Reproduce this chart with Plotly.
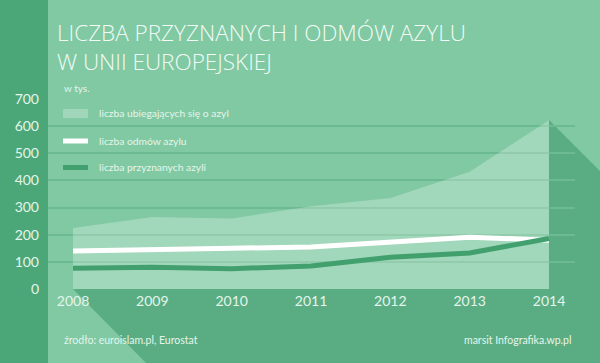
import plotly.graph_objects as go

years = [2008, 2009, 2010, 2011, 2012, 2013, 2014]
applicants = [225, 265, 260, 305, 335, 432, 622]
rejections = [140, 147, 150, 155, 174, 191, 180]
granted = [76, 80, 75, 85, 117, 133, 186]

y_ticks = [0, 100, 200, 300, 400, 500, 600, 700]
x_ticks = years

title_lines = ["LICZBA PRZYZNANYCH I ODMÓW AZYLU", "W UNII EUROPEJSKIEJ"]
unit_label = "w tys."
legend_labels = ["liczba ubiegających się o azyl", "liczba odmów azylu", "liczba przyznanych azyli"]
source_text = "źrodło: euroislam.pl, Eurostat"
credit_text = "marsit Infografika.wp.pl"

W, H = 600, 363
L, R, T, B = 48, 25, 99, 74
PW, PH = W - L - R, H - T - B

BG = "#80c9a3"
STRIP = "#4ba778"
DARK = "#5aad83"
GRID = "#6cba91"
AREA = "rgba(255,255,255,0.26)"
GREEN = "#41a06e"
TEXT = "#e4f5eb"
FONT = "Lato"
TITLE_FONT = "Open Sans"


def px(x):
    return (x - L) / PW


def py(y):
    return (H - B - y) / PH


fig = go.Figure()
fig.add_trace(go.Scatter(x=years, y=applicants, mode="lines", fill="tozeroy",
                         fillcolor=AREA, line=dict(width=0, color=AREA),
                         hoverinfo="skip", showlegend=False))
fig.add_trace(go.Scatter(x=years, y=rejections, mode="lines",
                         line=dict(width=5, color="#ffffff"), showlegend=False))
fig.add_trace(go.Scatter(x=years, y=granted, mode="lines",
                         line=dict(width=5, color=GREEN), showlegend=False))

shapes = []
shapes.append(dict(type="rect", xref="paper", yref="paper", x0=px(0), x1=px(48),
                   y0=py(H), y1=py(0), fillcolor=STRIP, line_width=0, layer="below"))
pts = [(73, 289), (549, 289), (549, 120), (600, 171), (600, 363), (146, 363)]
path = "M " + " L ".join(f"{px(a):.5f},{py(b):.5f}" for a, b in pts) + " Z"
shapes.append(dict(type="path", xref="paper", yref="paper", path=path,
                   fillcolor=DARK, line_width=0, layer="below"))

shapes.append(dict(type="rect", xref="paper", yref="paper", x0=px(63), x1=px(88),
                   y0=py(118), y1=py(109), fillcolor="#a2d6ba", line_width=0))
shapes.append(dict(type="rect", xref="paper", yref="paper", x0=px(63), x1=px(88),
                   y0=py(143.5), y1=py(138.5), fillcolor="#ffffff", line_width=0))
shapes.append(dict(type="rect", xref="paper", yref="paper", x0=px(63), x1=px(88),
                   y0=py(170), y1=py(165), fillcolor=GREEN, line_width=0))

annotations = []
annotations.append(dict(xref="paper", yref="paper", x=px(55), y=py(47),
                        text="<br>".join(title_lines), showarrow=False,
                        xanchor="left", yanchor="middle", align="left",
                        font=dict(family=TITLE_FONT, size=22.5, color="#f2fbf6", weight=300)))
annotations.append(dict(xref="paper", yref="paper", x=px(62), y=py(88),
                        text=unit_label, showarrow=False, xanchor="left", yanchor="middle",
                        font=dict(family=FONT, size=10, color=TEXT)))
for lab, yy in zip(legend_labels, [113, 141, 167]):
    annotations.append(dict(xref="paper", yref="paper", x=px(97), y=py(yy),
                            text=lab, showarrow=False, xanchor="left", yanchor="middle",
                            font=dict(family=FONT, size=10.3, color=TEXT)))
annotations.append(dict(xref="paper", yref="paper", x=px(62), y=py(340),
                        text=source_text, showarrow=False, xanchor="left", yanchor="middle",
                        font=dict(family=FONT, size=10.5, color=TEXT)))
annotations.append(dict(xref="paper", yref="paper", x=px(573), y=py(340),
                        text=credit_text, showarrow=False, xanchor="right", yanchor="middle",
                        font=dict(family=FONT, size=10.5, color=TEXT)))

x0 = 2008 - 25 / (476 / 6)
x1 = 2014 + 26 / (476 / 6)

fig.update_layout(
    width=W, height=H,
    margin=dict(l=L, r=R, t=T, b=B, pad=0),
    paper_bgcolor=BG, plot_bgcolor="rgba(0,0,0,0)",
    shapes=shapes, annotations=annotations,
    xaxis=dict(range=[x0, x1], tickvals=x_ticks, ticktext=[str(v) for v in x_ticks],
               showgrid=False, zeroline=False, showline=False, ticks="",
               tickfont=dict(family=FONT, size=14, color=TEXT), ticklabelstandoff=2,
               fixedrange=True),
    yaxis=dict(range=[0, 700], tickvals=y_ticks, showgrid=True, gridcolor=GRID,
               gridwidth=1.5, zeroline=False, showline=False, ticks="",
               tickfont=dict(family=FONT, size=14, color=TEXT), ticklabelstandoff=8,
               fixedrange=True),
    showlegend=False,
)

fig.write_html("out.html", config={"displayModeBar": False},
               post_script="document.body.style.margin='0';document.body.style.background='" + BG + "';")
